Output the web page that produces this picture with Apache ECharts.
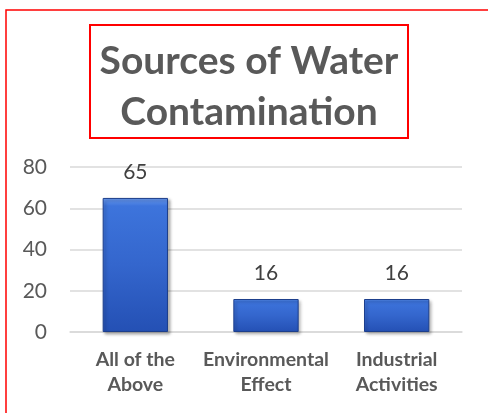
<!DOCTYPE html>
<html>
<head>
<meta charset="utf-8">
<script src="https://cdn.jsdelivr.net/npm/echarts@6/dist/echarts.min.js"></script>
<style>
  html, body { margin: 0; padding: 0; background: #fff; }
  #chart { width: 488px; height: 413px; }
</style>
</head>
<body>
<div id="chart"></div>
<script>
const categories = ["All of the\nAbove", "Environmental\nEffect", "Industrial\nActivities"];
const values = [65, 16, 16];
const titleText = "Sources of Water\nContamination";

const chart = echarts.init(document.getElementById("chart"), null, { renderer: "canvas" });

chart.setOption({
  animation: false,
  backgroundColor: "#fff",
  title: {
    text: titleText,
    left: 244,
    top: 31,
    textAlign: "center",
    textStyle: {
      fontFamily: "Lato",
      fontWeight: "bold",
      fontSize: 39,
      lineHeight: 51,
      color: "#595959"
    }
  },
  graphic: [
    // outer chart border, runs off the right and bottom edges
    { type: "rect", shape: { x: 6, y: 10, width: 500, height: 420 },
      style: { fill: null, stroke: "#ff0000", lineWidth: 1.5 }, silent: true },
    // title box
    { type: "rect", shape: { x: 90, y: 25, width: 318, height: 113 },
      style: { fill: null, stroke: "#ff0000", lineWidth: 2 }, silent: true }
  ],
  grid: { left: 70, right: 26, top: 167, bottom: 81 },
  xAxis: {
    type: "category",
    data: categories,
    axisTick: { show: false },
    axisLine: { lineStyle: { color: "#d9d9d9", width: 1.5 } },
    axisLabel: {
      interval: 0,
      margin: 15,
      fontFamily: "Lato",
      fontWeight: "bold",
      fontSize: 19.5,
      lineHeight: 25,
      color: "#595959"
    }
  },
  yAxis: {
    type: "value",
    min: 0,
    max: 80,
    interval: 20,
    axisLine: { show: false },
    axisTick: { show: false },
    splitLine: { lineStyle: { color: "#d9d9d9", width: 1.5 } },
    axisLabel: {
      margin: 23,
      fontFamily: "Lato",
      fontSize: 21,
      color: "#595959"
    }
  },
  series: [
    {
      type: "bar",
      data: values,
      barWidth: "50%",
      itemStyle: {
        color: new echarts.graphic.LinearGradient(0, 0, 0, 1, [
          { offset: 0, color: "#6a9af0" },
          { offset: 0.06, color: "#3d74dc" },
          { offset: 0.5, color: "#3466cd" },
          { offset: 1, color: "#2450b4" }
        ]),
        borderColor: "#1d3f8c",
        borderWidth: 1,
        shadowColor: "rgba(0,0,0,0.3)",
        shadowBlur: 3,
        shadowOffsetX: 2,
        shadowOffsetY: 2
      },
      label: {
        show: true,
        position: "top",
        distance: 15,
        fontFamily: "Lato",
        fontSize: 21,
        color: "#404040"
      }
    }
  ]
});
</script>
</body>
</html>
